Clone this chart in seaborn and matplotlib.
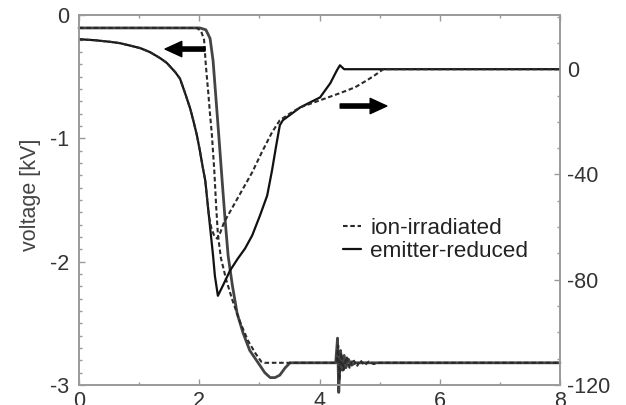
import matplotlib
matplotlib.use("Agg")
import numpy as np
import pandas as pd
import seaborn as sns
import matplotlib.pyplot as plt
from matplotlib.lines import Line2D
from matplotlib.ticker import MultipleLocator

# ---- data ----
# voltage, emitter-reduced (solid), left axis [kV]
t_v_er = [0, 2.01, 2.11, 2.18, 2.23, 2.28, 2.33, 2.38, 2.43, 2.48, 2.55, 2.63, 2.73,
          2.84, 2.98, 3.09, 3.18, 3.26, 3.34, 3.43, 3.51, 4.27, 4.30, 4.32, 4.35,
          4.38, 4.41, 4.44, 4.48, 4.53, 4.60, 8.0]
v_er = [-0.105, -0.105, -0.12, -0.19, -0.37, -0.69, -1.01, -1.34, -1.66, -1.95, -2.19,
        -2.42, -2.58, -2.72, -2.82, -2.90, -2.94, -2.94, -2.92, -2.86, -2.82, -2.82,
        -2.62, -3.06, -2.72, -2.88, -2.76, -2.86, -2.79, -2.84, -2.82, -2.82]

# voltage, ion-irradiated (dotted), left axis [kV]
t_v_ii = [0, 1.96, 2.03, 2.08, 2.11, 2.15, 2.18, 2.21, 2.25, 2.28, 2.31, 2.36, 2.45,
          2.55, 2.68, 2.81, 2.93, 3.03, 3.09, 4.28, 4.31, 4.33, 4.36, 4.40, 4.45,
          4.50, 4.56, 4.62, 4.68, 4.75, 4.82, 4.90, 5.0, 8.0]
v_ii = [-0.105, -0.105, -0.13, -0.20, -0.41, -0.63, -0.81, -0.97, -1.26, -1.54, -1.78,
        -1.97, -2.15, -2.31, -2.49, -2.64, -2.74, -2.81, -2.82, -2.82, -2.68, -2.96,
        -2.74, -2.88, -2.77, -2.86, -2.79, -2.85, -2.80, -2.84, -2.81, -2.83, -2.82, -2.82]

# current, emitter-reduced (solid), right axis
t_i_er = [0, 0.27, 0.52, 0.68, 0.90, 1.02, 1.18, 1.35, 1.46, 1.60, 1.68, 1.76, 1.85,
          1.90, 1.96, 2.01, 2.06, 2.10, 2.16, 2.23, 2.26, 2.31,
          2.40, 2.51, 2.64, 2.76, 2.88, 3.01, 3.13, 3.21, 3.28, 3.34, 3.39, 3.68,
          4.01, 4.18, 4.29, 4.34, 4.41, 8.0]
i_er = [11.4, 11.0, 10.4, 9.9, 8.7, 8.0, 6.5, 4.2, 2.4, -1.1, -3.6, -8.8, -15.0,
        -19.4, -25.0, -30.9, -37.5, -42.3, -55.6, -70.9, -78.5, -86.1,
        -81.9, -76.6, -72.0, -68.2, -63.2, -55.6, -48.0, -38.5, -29.0, -21.3, -19.4,
        -14.5, -10.7, -5.3, -0.4, 1.5, 0.0, 0.0]

# current, ion-irradiated (dotted), right axis
t_i_ii = [0, 0.27, 0.52, 0.68, 0.90, 1.02, 1.18, 1.35, 1.46, 1.60, 1.68, 1.76, 1.85,
          1.90, 1.96, 2.01, 2.06, 2.10, 2.16, 2.20, 2.25, 2.30,
          2.35, 2.41, 2.55, 2.71, 2.88, 3.04, 3.21, 3.34, 3.51, 3.68, 4.01, 4.34,
          4.59, 4.79, 4.92, 5.06, 8.0]
i_ii = [11.4, 11.0, 10.4, 9.9, 8.7, 8.0, 6.5, 4.2, 2.4, -1.1, -3.6, -8.8, -15.0,
        -19.4, -25.0, -30.9, -37.5, -42.3, -55.6, -60.2, -63.4, -64.4,
        -62.1, -58.3, -52.6, -46.1, -39.2, -31.6, -24.0, -19.4, -16.8, -14.5, -11.8,
        -9.1, -6.9, -4.2, -2.3, 0.0, 0.0]

labels = ["ion-irradiated", "emitter-reduced"]
x_ticks = [0, 2, 4, 6, 8]
v_ticks = [-3, -2, -1, 0]
i_ticks = [-120, -80, -40, 0]

# ---- style ----
sns.set_style("white")
plt.rcParams['font.family'] = ['Liberation Sans', 'DejaVu Sans']

SOLID_C = '#111111'
DOT_C = '#2a2a2a'
V_SOLID_C = '#444444'
DASH = (2.2, 1.3)
FRAME = '#9a9a9a'
TXT = '#333333'
FS = 15.5

fig = plt.figure(figsize=(6.26, 4.05), dpi=100)
ax = fig.add_axes([79 / 626, 20 / 405, 481 / 626, 370 / 405])
ax2 = ax.twinx()

sns.lineplot(x=t_v_er, y=v_er, ax=ax, color=V_SOLID_C, lw=2.0, estimator=None, sort=False)
sns.lineplot(x=t_v_ii, y=v_ii, ax=ax, color=DOT_C, lw=1.5, estimator=None, sort=False)
ax.lines[-1].set_dashes(DASH)
for ln in ax.lines:
    ln.set_clip_on(False)

sns.lineplot(x=t_i_er, y=i_er, ax=ax2, color=SOLID_C, lw=1.6, estimator=None, sort=False)
sns.lineplot(x=t_i_ii, y=i_ii, ax=ax2, color=DOT_C, lw=1.5, estimator=None, sort=False)
ax2.lines[-1].set_dashes(DASH)

ax.set_xlim(0, 8)
ax.set_ylim(-3, 0)
ax2.set_ylim(-120, 20.6)

ax.set_xticks(x_ticks)
ax.set_xticklabels([str(v) for v in x_ticks])
ax.xaxis.set_minor_locator(MultipleLocator(1))
ax.set_yticks(v_ticks)
ax.set_yticklabels([str(v) for v in v_ticks])
ax.yaxis.set_minor_locator(MultipleLocator(0.1))
ax2.set_yticks(i_ticks)
ax2.set_yticklabels([str(v) for v in i_ticks])
ax2.yaxis.set_minor_locator(MultipleLocator(10))

ax.tick_params(axis='both', which='both', direction='in', color=FRAME, labelcolor=TXT,
               labelsize=FS, top=True, bottom=True, left=True, right=False, width=1)
ax.tick_params(axis='both', which='major', length=4)
ax.tick_params(axis='both', which='minor', length=2.5)
ax.tick_params(axis='y', which='major', pad=7)
ax.tick_params(axis='x', which='major', pad=4)
ax2.tick_params(axis='y', which='both', direction='in', color=FRAME, labelcolor=TXT,
                labelsize=FS, right=True, left=False, width=1, pad=5)
ax2.tick_params(axis='y', which='major', length=4)
ax2.tick_params(axis='y', which='minor', length=2.5)

for a in (ax, ax2):
    for s in a.spines.values():
        s.set_color(FRAME)
        s.set_linewidth(1.2)
        s.set_visible(True)

ax.set_xlabel('')
ax2.set_ylabel('')
ax.set_ylabel('voltage [kV]', fontsize=FS, color='#444444')
ax.yaxis.set_label_coords(-0.08, 0.514)

handles = [Line2D([], [], color=DOT_C, lw=1.5, dashes=DASH),
           Line2D([], [], color=SOLID_C, lw=1.6)]
leg = ax2.legend(handles, labels, loc='center left', bbox_to_anchor=(0.549, 0.392),
                 frameon=False, fontsize=FS + 0.7, handlelength=0.8, handletextpad=0.4,
                 labelspacing=0.12, borderpad=0, borderaxespad=0)
for t in leg.get_texts():
    t.set_color('#222222')

arrow_kw = dict(facecolor='black', edgecolor='black', width=3, headwidth=11,
                headlength=12, shrink=0)
ax2.annotate('', xy=(0.179, 0.908), xytext=(0.262, 0.908), xycoords='axes fraction',
             textcoords='axes fraction', arrowprops=arrow_kw)
ax2.annotate('', xy=(0.640, 0.754), xytext=(0.543, 0.754), xycoords='axes fraction',
             textcoords='axes fraction', arrowprops=arrow_kw)

fig.savefig('out.png', dpi=100)
